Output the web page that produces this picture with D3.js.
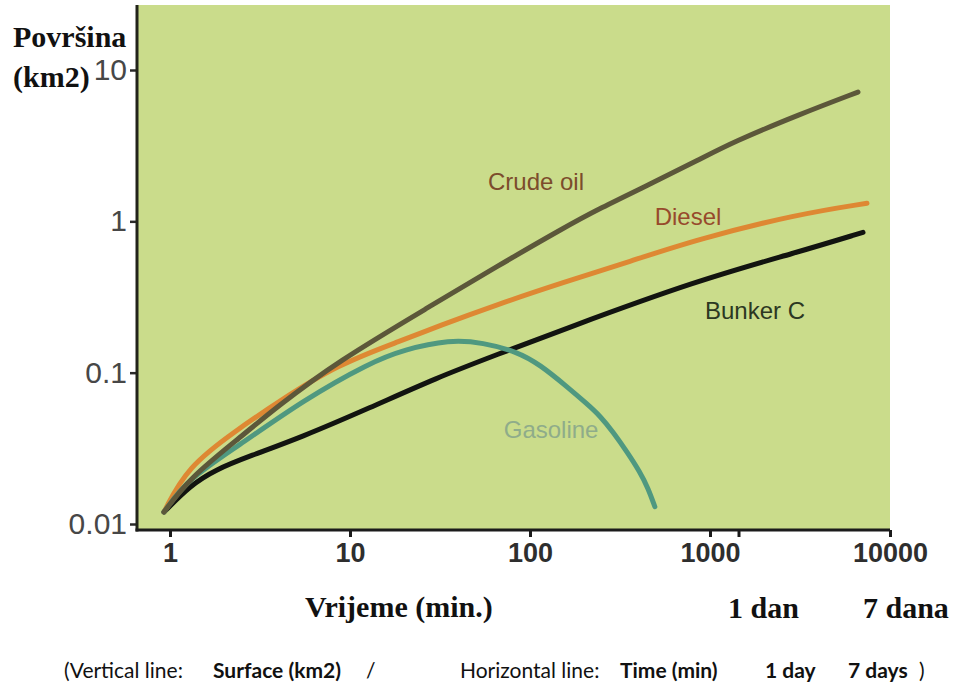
<!DOCTYPE html>
<html>
<head>
<meta charset="utf-8">
<script src="https://cdn.jsdelivr.net/npm/d3@7"></script>
<style>
  html, body { margin: 0; padding: 0; background: #fff; }
  svg { display: block; }
</style>
</head>
<body>
<div id="chart"></div>
<script>
// time in minutes, spreading area in km2
var crudeOil = [[0.926, 0.012], [1.29, 0.0202], [2.36, 0.036], [3.93, 0.0595], [8.47, 0.118], [27.8, 0.274],
	[65.6, 0.504], [152.5, 0.90], [245, 1.22], [464, 1.76], [879, 2.57], [1342, 3.34], [3162, 5.11], [6640, 7.15]];
var diesel = [[0.926, 0.012], [1.243, 0.0238], [2.36, 0.042], [3.93, 0.0633], [8.47, 0.113], [19.95, 0.165],
	[30.4, 0.2016], [65.6, 0.282], [152.5, 0.3945], [359, 0.543], [847, 0.76], [3043, 1.113], [7450, 1.316]];
var bunkerC = [[0.926, 0.012], [1.29, 0.0179], [1.778, 0.0228], [2.783, 0.0282], [5.275, 0.0371], [12.9, 0.0586],
	[30.4, 0.0927], [65.6, 0.1316], [152.5, 0.1927], [847, 0.4067], [3043, 0.6232], [7080, 0.8456]];
var gasoline = [[0.926, 0.012], [1.243, 0.0196], [2.36, 0.0324], [5.55, 0.0663], [12.9, 0.1164], [19.95, 0.142],
	[35.9, 0.1654], [54.8, 0.158], [84.7, 0.1377], [113.6, 0.113], [160.5, 0.0808], [207, 0.0623],
	[244.8, 0.0519], [289, 0.0407], [346, 0.030], [408, 0.0221], [452.6, 0.0173], [494, 0.013]];

var xTicks = [1, 10, 100, 1000, 10000];
var xTickLabels = ["1", "10", "100", "1000", "10000"];
var dayTick = 1440; // 1 day in minutes, unlabeled tick
var yTicks = [0.01, 0.1, 1, 10];
var yTickLabels = ["0.01", "0.1", "1", "10"];

var seriesNames = ["Bunker C", "Diesel", "Gasoline", "Crude oil"];
var seriesData = [bunkerC, diesel, gasoline, crudeOil];
// label anchor points in data coords (time, area)
var labelTimes = [1778, 755, 131, 108];
var labelAreas = [0.258, 1.08, 0.042, 1.84];

var width = 962, height = 683;
var lineColors = ["#121410", "#de8833", "#4f9880", "#5c573a"];
var labelColors = ["#2c3822", "#974a2c", "#8fac8a", "#7c4c2c"];

var svg = d3.select("#chart").append("svg")
	.attr("width", width)
	.attr("height", height);

// log scales, one decade is ~180px in x and ~151px in y
var x = d3.scaleLog().domain([1, 10000]).range([170, 890]);
var y = d3.scaleLog().domain([0.01, 10]).range([524, 70]);

var plotLeft = 137, plotRight = 890, plotTop = 5, plotBottom = 530;

// green plot background
svg.append("rect")
	.attr("x", plotLeft)
	.attr("y", plotTop)
	.attr("width", plotRight - plotLeft)
	.attr("height", plotBottom - plotTop)
	.attr("fill", "#cadc8b");

// data lines
var line = d3.line()
	.x(function(d) { return x(d[0]); })
	.y(function(d) { return y(d[1]); })
	.curve(d3.curveBasis);

seriesData.forEach(function(data, i) {
	svg.append("path")
		.datum(data)
		.attr("fill", "none")
		.attr("stroke", lineColors[i])
		.attr("stroke-width", 5)
		.attr("stroke-linecap", "round")
		.attr("d", line);
});

// series labels
seriesNames.forEach(function(name, i) {
	svg.append("text")
		.attr("x", x(labelTimes[i]))
		.attr("y", y(labelAreas[i]))
		.attr("dy", "0.35em")
		.attr("text-anchor", "middle")
		.attr("font-family", "Liberation Sans, Arial, sans-serif")
		.attr("font-size", 24)
		.attr("fill", labelColors[i])
		.text(name);
});

// x axis
var xAxis = d3.axisBottom(x)
	.tickValues(xTicks.concat([dayTick]))
	.tickSize(7)
	.tickPadding(6)
	.tickFormat(function(d) {
		var idx = xTicks.indexOf(d);
		return idx < 0 ? "" : xTickLabels[idx];
	});

var gx = svg.append("g")
	.attr("transform", "translate(0," + plotBottom + ")")
	.call(xAxis);
gx.select(".domain").remove();
gx.selectAll(".tick line").attr("stroke", "#1b1b1b").attr("stroke-width", 3);
gx.selectAll(".tick text")
	.attr("font-family", "Liberation Sans, Arial, sans-serif")
	.attr("font-size", 27)
	.attr("font-weight", "bold")
	.attr("fill", "#2e2e2e");

// y axis
var yAxis = d3.axisLeft(y)
	.tickValues(yTicks)
	.tickSize(7)
	.tickPadding(3)
	.tickFormat(function(d, i) { return yTickLabels[i]; });

var gy = svg.append("g")
	.attr("transform", "translate(" + plotLeft + ",0)")
	.call(yAxis);
gy.select(".domain").remove();
gy.selectAll(".tick line").attr("stroke", "#2a2a2a").attr("stroke-width", 2.5);
gy.selectAll(".tick text")
	.attr("font-family", "Liberation Sans, Arial, sans-serif")
	.attr("font-size", 30)
	.attr("fill", "#474747");

// axis lines drawn over the background edges
svg.append("line")
	.attr("x1", plotLeft).attr("x2", plotLeft)
	.attr("y1", plotTop).attr("y2", plotBottom + 1.5)
	.attr("stroke", "#22241a").attr("stroke-width", 3);
svg.append("line")
	.attr("x1", plotLeft - 1.5).attr("x2", plotRight)
	.attr("y1", plotBottom).attr("y2", plotBottom)
	.attr("stroke", "#1b1b1b").attr("stroke-width", 3);

// axis titles
var serif = "Liberation Serif, Times New Roman, serif";
function title(str, tx, ty) {
	svg.append("text")
		.attr("x", tx)
		.attr("y", ty)
		.attr("font-family", serif)
		.attr("font-size", 30)
		.attr("font-weight", "bold")
		.attr("fill", "#111")
		.text(str);
}
title("Površina", 13, 47);
title("(km2)", 13, 87);
title("Vrijeme (min.)", 305, 617);
title("1 dan", 728, 618);
title("7 dana", 863, 618);

// translation caption underneath
var captionParts = [
	{ t: "(Vertical line:", x: 64, b: false },
	{ t: "Surface (km2)", x: 213, b: true },
	{ t: "/", x: 366, b: false },
	{ t: "Horizontal line:", x: 460, b: false },
	{ t: "Time (min)", x: 620, b: true },
	{ t: "1 day", x: 765, b: true },
	{ t: "7 days", x: 848, b: true },
	{ t: ")", x: 919, b: false }
];
var caption = svg.append("text")
	.attr("y", 678)
	.attr("font-family", "Lato, Open Sans, sans-serif")
	.attr("font-size", 21)
	.attr("fill", "#111");
captionParts.forEach(function(p) {
	caption.append("tspan")
		.attr("x", p.x)
		.attr("font-weight", p.b ? "bold" : "normal")
		.text(p.t);
});
</script>
</body>
</html>
